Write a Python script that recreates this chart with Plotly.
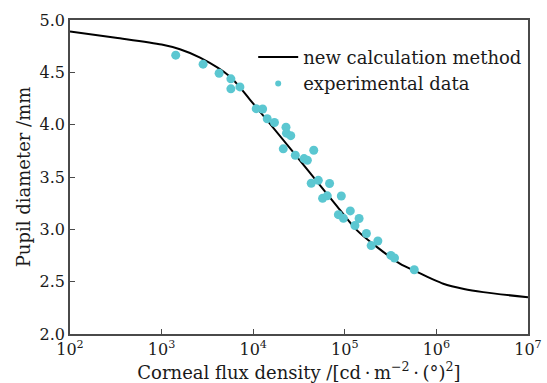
import plotly.graph_objects as go

# model curve (new calculation method)
curve_x = [1e2, 3.16e2, 1e3, 1.585e3, 2.63e3, 5.56e3, 9.2e3, 2.72e4, 4.17e4,
           8.24e4, 1.36e5, 2.25e5, 4.03e5, 5.58e5, 1.19e6, 2.0e6, 3.24e6, 1e7]
curve_y = [4.89, 4.83, 4.765, 4.72, 4.64, 4.46, 4.24, 3.74, 3.54,
           3.22, 2.99, 2.83, 2.67, 2.61, 2.48, 2.43, 2.40, 2.35]

# experimental data
exp_x = [1426, 2838, 4246, 5705, 5705, 7160, 10790, 12680, 14230, 17060,
         22800, 23070, 25700, 21290, 28830, 35900, 39000, 45800, 43000, 51400,
         68200, 57200, 64400, 91600, 85100, 96600, 114800, 143300, 129000, 172200,
         229500, 194100, 318400, 348900, 573000]
exp_y = [4.664, 4.578, 4.491, 4.438, 4.342, 4.361, 4.153, 4.150, 4.057, 4.021,
         3.975, 3.919, 3.895, 3.769, 3.708, 3.676, 3.660, 3.756, 3.440, 3.468,
         3.438, 3.296, 3.320, 3.318, 3.140, 3.105, 3.176, 3.104, 3.037, 2.960,
         2.889, 2.845, 2.751, 2.726, 2.614]

x_tickvals = [1e2, 1e3, 1e4, 1e5, 1e6, 1e7]
x_ticktext = ["10<sup>2</sup>", "10<sup>3</sup>", "10<sup>4</sup>",
              "10<sup>5</sup>", "10<sup>6</sup>", "10<sup>7</sup>"]
y_tickvals = [2.0, 2.5, 3.0, 3.5, 4.0, 4.5, 5.0]

FONT = "DejaVu Serif"
TXT = "#1a1a1a"
AX = "#4a4a4a"
MARK = "#5bc7d1"

fig = go.Figure()
fig.add_trace(go.Scatter(x=curve_x, y=curve_y, mode="lines",
                         line=dict(color="black", width=2, shape="spline", smoothing=0.8),
                         name="new calculation method"))
fig.add_trace(go.Scatter(x=exp_x, y=exp_y, mode="markers",
                         marker=dict(color=MARK, size=9, line=dict(width=0)),
                         name="experimental data", showlegend=False))
# legend-only entry with the small legend marker
fig.add_trace(go.Scatter(x=[None], y=[None], mode="markers",
                         marker=dict(color=MARK, size=6, line=dict(width=0)),
                         name="experimental data"))

fig.update_layout(
    width=547, height=383,
    margin=dict(l=70, r=19, t=20, b=49, autoexpand=False),
    paper_bgcolor="white", plot_bgcolor="white",
    font=dict(family=FONT, size=16, color=TXT),
    showlegend=True,
    legend=dict(x=0.40, y=0.94, xanchor="left", yanchor="top",
                bgcolor="rgba(0,0,0,0)", font=dict(family=FONT, size=18, color=TXT),
                tracegroupgap=0, itemwidth=40),
)
fig.update_xaxes(type="log", range=[2, 7], tickvals=x_tickvals, ticktext=x_ticktext,
                 ticks="inside", ticklen=5, tickwidth=1.2, tickcolor=AX,
                 showline=True, linecolor=AX, linewidth=1.5, mirror=True,
                 showgrid=False, zeroline=False, automargin=False,
                 tickfont=dict(family=FONT, size=16, color=TXT),
                 title=dict(text="Corneal flux density /[cd\u2009·\u2009m<sup>−2</sup>\u2009·\u2009(°)<sup>2</sup>]",
                            font=dict(family=FONT, size=18, color=TXT), standoff=0))
fig.update_yaxes(range=[2, 5], tickvals=y_tickvals, tickformat=".1f",
                 ticks="inside", ticklen=5, tickwidth=1.2, tickcolor=AX,
                 showline=True, linecolor=AX, linewidth=1.5, mirror=True,
                 showgrid=False, zeroline=False, automargin=False,
                 tickfont=dict(family=FONT, size=16, color=TXT),
                 title=dict(text="Pupil diameter /mm",
                            font=dict(family=FONT, size=18, color=TXT), standoff=4))

fig.write_html("out.html")
